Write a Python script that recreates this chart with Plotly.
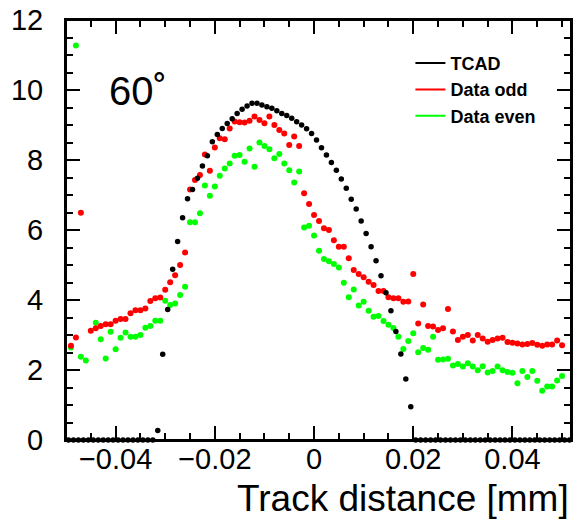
import plotly.graph_objects as go

# ---------------- data ----------------
tcad_x = [-0.0495, -0.0485, -0.0475, -0.0465, -0.0455, -0.0445, -0.0435, -0.0425, -0.0415, -0.0405,
          -0.0395, -0.0385, -0.0375, -0.0365, -0.0355, -0.0345, -0.0335, -0.0325, -0.0315, -0.0305,
          -0.0295, -0.0285, -0.0275, -0.0265, -0.0255, -0.0245, -0.0235, -0.0225, -0.0215, -0.0205,
          -0.0195, -0.0185, -0.0175, -0.0165, -0.0155, -0.0145, -0.0135, -0.0125, -0.0115, -0.0105,
          -0.0095, -0.0085, -0.0075, -0.0065, -0.0055, -0.0045, -0.0035, -0.0025, -0.0015, -0.0005,
          0.0005, 0.0015, 0.0025, 0.0035, 0.0045, 0.0055, 0.0065, 0.0075, 0.0085, 0.0095,
          0.0105, 0.0115, 0.0125, 0.0135, 0.0145, 0.0155, 0.0165, 0.0175, 0.0185, 0.0195,
          0.0205, 0.0215, 0.0225, 0.0235, 0.0245, 0.0255, 0.0265, 0.0275, 0.0285, 0.0295,
          0.0305, 0.0315, 0.0325, 0.0335, 0.0345, 0.0355, 0.0365, 0.0375, 0.0385, 0.0395,
          0.0405, 0.0415, 0.0425, 0.0435, 0.0445, 0.0455, 0.0465, 0.0475, 0.0485, 0.0495,
          0.0505, 0.0515]
tcad_y = [0, 0, 0, 0, 0, 0, 0, 0, 0, 0,
          0, 0, 0, 0, 0, 0, 0, 0, 0.27, 2.45,
          3.73, 4.88, 5.67, 6.35, 6.89, 7.16, 7.48, 7.83, 8.12, 8.52,
          8.73, 8.90, 9.04, 9.18, 9.33, 9.45, 9.54, 9.62, 9.62, 9.57,
          9.52, 9.48, 9.41, 9.33, 9.27, 9.19, 9.09, 9.00, 8.89, 8.76,
          8.57, 8.35, 8.14, 7.93, 7.71, 7.46, 7.19, 6.88, 6.60, 6.26,
          5.90, 5.52, 5.12, 4.69, 4.21, 3.69, 3.10, 2.46, 1.74, 0.95,
          0, 0, 0, 0, 0, 0, 0, 0, 0, 0,
          0, 0, 0, 0, 0, 0, 0, 0, 0, 0,
          0, 0, 0, 0, 0, 0, 0, 0, 0, 0,
          0, 0]

odd_x = [-0.049, -0.048, -0.047, -0.045, -0.044, -0.043, -0.042, -0.041, -0.040, -0.039,
         -0.038, -0.037, -0.036, -0.035, -0.034, -0.033, -0.032, -0.031, -0.030, -0.029,
         -0.028, -0.027, -0.026, -0.025, -0.024, -0.023, -0.022, -0.021, -0.020, -0.019,
         -0.018, -0.017, -0.016, -0.015, -0.014, -0.013, -0.012, -0.011, -0.010, -0.009,
         -0.008, -0.007, -0.006, -0.005, -0.004, -0.003, -0.002, -0.001, 0.000, 0.001,
         0.002, 0.003, 0.004, 0.005, 0.006, 0.007, 0.008, 0.009, 0.010, 0.011,
         0.012, 0.013, 0.014, 0.015, 0.016, 0.017, 0.018, 0.019, 0.020, 0.021,
         0.022, 0.023, 0.024, 0.025, 0.026, 0.027, 0.028, 0.029, 0.030, 0.031,
         0.032, 0.033, 0.034, 0.035, 0.036, 0.037, 0.038, 0.039, 0.040, 0.041,
         0.042, 0.043, 0.044, 0.045, 0.046, 0.047, 0.048, 0.049, 0.050]
odd_y = [2.69, 2.93, 6.49, 3.12, 3.19, 3.26, 3.31, 3.31, 3.41, 3.46,
         3.46, 3.62, 3.71, 3.71, 3.76, 3.97, 4.05, 4.07, 4.29, 4.51,
         4.71, 5.00, 5.36, 7.16, 7.43, 7.57, 8.16, 7.69, 8.36, 8.62,
         8.59, 8.90, 9.10, 9.08, 9.07, 9.12, 9.24, 9.14, 9.05, 9.24,
         9.00, 8.86, 8.76, 8.43, 8.67, 8.40, 7.05, 6.74, 6.43, 6.26,
         6.05, 6.00, 5.71, 5.52, 5.52, 5.19, 4.86, 4.74, 4.65, 4.52,
         4.43, 4.26, 4.26, 4.08, 4.05, 4.05, 3.95, 3.96, 4.74, 3.33,
         3.87, 3.26, 3.24, 3.14, 3.19, 3.74, 3.10, 2.86, 2.95, 3.00,
         2.84, 3.00, 2.90, 2.81, 2.86, 2.90, 2.92, 2.80, 2.78, 2.76,
         2.73, 2.74, 2.77, 2.72, 2.69, 2.73, 2.73, 2.84, 2.71]

even_x = [-0.049, -0.048, -0.047, -0.046, -0.044, -0.043, -0.042, -0.041, -0.040, -0.039,
          -0.038, -0.037, -0.036, -0.035, -0.034, -0.033, -0.032, -0.031, -0.030, -0.029,
          -0.028, -0.027, -0.026, -0.025, -0.024, -0.023, -0.022, -0.021, -0.020, -0.019,
          -0.018, -0.017, -0.016, -0.015, -0.014, -0.013, -0.012, -0.011, -0.010, -0.009,
          -0.008, -0.007, -0.006, -0.005, -0.004, -0.003, -0.002, -0.001, 0.000, 0.001,
          0.002, 0.003, 0.004, 0.005, 0.006, 0.007, 0.008, 0.009, 0.010, 0.011,
          0.012, 0.013, 0.014, 0.015, 0.016, 0.017, 0.018, 0.019, 0.020, 0.021,
          0.022, 0.023, 0.024, 0.025, 0.026, 0.027, 0.028, 0.029, 0.030, 0.031,
          0.032, 0.033, 0.034, 0.035, 0.036, 0.037, 0.038, 0.039, 0.040, 0.041,
          0.042, 0.043, 0.044, 0.045, 0.046, 0.047, 0.048, 0.049, 0.050]
even_y = [2.64, 11.27, 2.38, 2.27, 3.35, 2.88, 2.33, 3.09, 2.59, 2.92,
          3.07, 2.95, 2.95, 3.00, 3.21, 3.26, 3.41, 3.41, 3.98, 3.86,
          3.90, 4.14, 4.38, 6.22, 6.22, 6.48, 7.27, 6.98, 7.24, 7.55,
          7.76, 7.90, 8.12, 8.14, 7.95, 8.33, 7.81, 8.50, 8.40, 8.31,
          8.05, 8.17, 7.90, 7.71, 7.36, 7.67, 6.07, 6.12, 5.84, 5.41,
          5.17, 5.11, 5.03, 4.93, 4.49, 4.08, 4.30, 3.84, 3.95, 3.69,
          3.52, 3.54, 3.40, 3.29, 3.20, 2.95, 2.60, 2.83, 3.05, 2.51,
          2.63, 2.58, 2.95, 2.29, 2.30, 2.32, 2.13, 2.17, 2.10, 2.19,
          2.10, 1.99, 2.11, 1.93, 1.97, 2.10, 1.99, 1.94, 1.92, 1.62,
          1.97, 1.80, 1.97, 1.69, 1.41, 1.53, 1.53, 1.70, 1.83]

series_names = ["TCAD", "Data odd", "Data even"]
series_colors = ["#000000", "#ff0000", "#00ff00"]
angle_label = "60˚"
x_title = "Track distance [mm]"
y_ticks = [0, 2, 4, 6, 8, 10, 12]
x_ticks = [-0.04, -0.02, 0, 0.02, 0.04]

FONT = "Liberation Sans, Arial, Helvetica, sans-serif"

fig = go.Figure()

all_x = [tcad_x, odd_x, even_x]
all_y = [tcad_y, odd_y, even_y]
sizes = [5.5, 6, 6]
for i in [2, 1, 0]:
    fig.add_trace(go.Scatter(
        x=all_x[i], y=all_y[i], mode="markers",
        marker=dict(color=series_colors[i], size=sizes[i], line=dict(width=0)),
        cliponaxis=False, showlegend=False, name=series_names[i]))

# legend entries (line symbols as in the original)
for i in range(3):
    fig.add_trace(go.Scatter(
        x=[None], y=[None], mode="lines",
        line=dict(color=series_colors[i], width=2),
        name=series_names[i], showlegend=True))

axis_common = dict(
    showline=True, linecolor="black", linewidth=2, mirror="allticks",
    ticks="inside", tickcolor="black", tickwidth=2,
    showgrid=False, zeroline=False, automargin=False,
    ticklabeloverflow="allow",
    tickfont=dict(family=FONT, size=29, color="black"),
)

fig.update_xaxes(
    range=[-0.05, 0.0518], tickvals=x_ticks, ticklen=14,
    minor=dict(dtick=0.005, tick0=0, ticklen=7, tickwidth=2, tickcolor="black", ticks="inside", showgrid=False),
    ticklabelstandoff=-8,
    **axis_common)
fig.update_yaxes(
    range=[0, 12], tickvals=y_ticks, ticklen=14,
    minor=dict(dtick=0.5, tick0=0, ticklen=7, tickwidth=2, tickcolor="black", ticks="inside", showgrid=False),
    ticklabelstandoff=15,
    **axis_common)

# frame around the plotting area
fig.add_shape(type="rect", xref="paper", yref="paper", x0=0, y0=0, x1=1, y1=1,
              line=dict(color="black", width=2), fillcolor="rgba(0,0,0,0)", layer="above")

fig.add_annotation(text=x_title, xref="paper", yref="paper", x=1.0, y=-0.193,
                   xanchor="right", yanchor="bottom", showarrow=False,
                   font=dict(family=FONT, size=37, color="black"))
fig.add_annotation(text=angle_label, xref="paper", yref="paper", x=0.081, y=0.83,
                   xanchor="left", yanchor="middle", showarrow=False,
                   font=dict(family=FONT, size=40, color="black"))

fig.update_layout(
    width=578, height=521,
    margin=dict(l=66, r=7, t=20, b=81),
    paper_bgcolor="white", plot_bgcolor="white",
    legend=dict(x=0.682, y=0.941, xanchor="left", yanchor="top",
                bgcolor="rgba(0,0,0,0)", borderwidth=0,
                font=dict(family=FONT, size=18, color="black", weight="bold"),
                itemwidth=30, tracegroupgap=0),
)

# remove the default 8px page margin so the figure fills the window exactly
fig.write_html("out.html", config={"displayModeBar": False},
               post_script="document.body.style.margin='0';")
